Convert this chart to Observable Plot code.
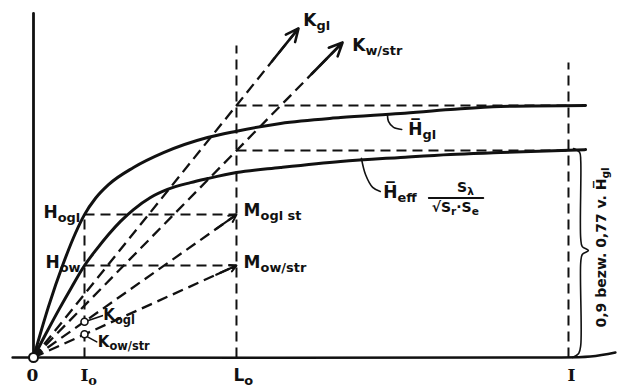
<!DOCTYPE html>
<html><head><meta charset="utf-8">
<script src="https://cdn.jsdelivr.net/npm/d3@7"></script>
<script src="https://cdn.jsdelivr.net/npm/@observablehq/plot@0.6"></script>
<style>html,body{margin:0;padding:0;background:#fff;} #chart svg{display:block;}</style>
</head><body><div id="chart"></div>
<script>
// Units: x in multiples of I0 (I0 = 1), y in multiples of the asymptote of H̄gl (= 1)
const hglX = [0, 0.294, 0.588, 0.824, 1.0, 1.216, 1.471, 1.961, 2.549, 3.412, 3.98, 4.843, 6.02, 7.196, 8.176, 9.157, 10.824];
const hglY = [0, 0.202, 0.375, 0.494, 0.567, 0.632, 0.686, 0.754, 0.813, 0.873, 0.898, 0.929, 0.952, 0.968, 0.984, 0.996, 1.0];
const heffX = [0, 0.235, 0.49, 0.745, 1.0, 1.235, 1.471, 1.706, 1.961, 2.294, 2.627, 3.078, 3.412, 3.98, 4.843, 6.02, 7.196, 8.176, 9.157, 10.824];
const heffY = [0, 0.091, 0.187, 0.278, 0.365, 0.429, 0.488, 0.540, 0.587, 0.635, 0.667, 0.694, 0.710, 0.734, 0.754, 0.778, 0.794, 0.806, 0.813, 0.825];

// rays from the origin
const rayName = ["Kgl", "Kw/str", "Mogl st", "Mow/str"];
const rayX = [5.196, 6.06, 3.98, 3.98];
const rayY = [1.306, 1.25, 0.567, 0.365];
const rayHead = ["big", "big", "small", "small"];

// dashed guide lines
const guideX1 = [1, 3.98, 10.49, 1, 1, 3.98, 3.98];
const guideY1 = [0, 0, 0, 0.567, 0.365, 1.0, 0.821];
const guideX2 = [1, 3.98, 10.49, 3.98, 3.98, 10.49, 10.49];
const guideY2 = [0.567, 1.238, 1.171, 0.567, 0.365, 1.0, 0.821];

// axes (hand drawn)
const xAxisX = [-0.41, 10.0, 10.92, 11.41];
const xAxisY = [0, 0, 0.004, 0.02];
const yAxisX = [0, 0];
const yAxisY = [0, 1.365];

// marked points
const pointX = [1, 1];
const pointY = [0.142, 0.092];

// brace
const braceX = [10.59, 10.71, 10.73, 10.73, 10.76, 10.88, 10.76, 10.73, 10.73, 10.69, 10.57];
const braceY = [0.829, 0.813, 0.782, 0.472, 0.440, 0.425, 0.409, 0.377, 0.048, 0.016, 0];

// leader lines
const leaderId = ["hgl","hgl","hgl","hgl","heff","heff","heff","heff","kogl","kogl","kow","kow"];
const leaderX = [6.94, 6.96, 7.06, 7.22, 6.43, 6.51, 6.65, 6.80, 1.06, 1.35, 1.05, 1.24];
const leaderY = [0.964, 0.937, 0.913, 0.905, 0.790, 0.726, 0.675, 0.659, 0.146, 0.166, 0.083, 0.062];

// labels
const bigText = ["K_{gl}", "K_{w/str}", "H_{ogl}", "H_{ow}", "M_{ogl st}", "M_{ow/str}", "H\u0305_{gl}", "H\u0305_{eff}", "L_{o}"];
const bigX = [5.29, 6.25, 0.196, 0.235, 4.12, 4.12, 7.35, 6.86, 3.92];
const bigY = [1.337, 1.238, 0.575, 0.377, 0.583, 0.377, 0.905, 0.655, -0.071];
const smallText = ["K_{ogl}", "K_{ow/str}"];
const smallX = [1.37, 1.26];
const smallY = [0.166, 0.062];
const fracText = ["S_{λ}", "√S_{r}·S_{e}"];
const fracX = [8.47, 8.27];
const fracY = [0.676, 0.596];
const fracLineX = [7.75, 8.82];
const fracLineY = [0.633, 0.633];
const tickText = ["0", "I_{o}", "I"];
const tickX = [-0.02, 0.92, 10.55];
const tickY = [-0.071, -0.071, -0.071];
const tickAnchor = ["middle", "start", "middle"];
const sideText = ["0,9 bezw. 0,77 v. H\u0305_{gl}"];
const sideX = [11.14];
const sideY = [0.437];

const rays = rayName.map((n, i) => ({n, x: rayX[i], y: rayY[i], head: rayHead[i]}));
const guides = guideX1.map((x1, i) => ({x1, y1: guideY1[i], x2: guideX2[i], y2: guideY2[i]}));
const leaders = leaderId.map((id, i) => ({id, x: leaderX[i], y: leaderY[i]}));
const zip = (xs, ys) => xs.map((x, i) => ({x, y: ys[i]}));

const font = "DejaVu Sans";
const dash = "10,6";

const plot = Plot.plot({
  width: 622, height: 387,
  marginLeft: 33, marginRight: 0, marginTop: 0, marginBottom: 30,
  x: {domain: [0, 589 / 51], axis: null},
  y: {domain: [0, 357 / 252], axis: null},
  style: {background: "#fff", overflow: "visible"},
  marks: [
    Plot.link(guides, {x1: "x1", y1: "y1", x2: "x2", y2: "y2", stroke: "#111", strokeWidth: 2, strokeDasharray: dash}),
    Plot.link(rays, {x1: 0, y1: 0, x2: "x", y2: "y", stroke: "#111", strokeWidth: 2.3, strokeDasharray: "11,6"}),
    Plot.arrow(rays.filter(d => d.head === "big"), {x1: d => d.x * 0.9, y1: d => d.y * 0.9, x2: "x", y2: "y", stroke: "#111", strokeWidth: 2.6, headLength: 14, headAngle: 50}),
    Plot.arrow(rays.filter(d => d.head === "small"), {x1: d => d.x * 0.9, y1: d => d.y * 0.9, x2: "x", y2: "y", stroke: "#111", strokeWidth: 2, headLength: 9, headAngle: 55}),
    Plot.line(zip(hglX, hglY), {x: "x", y: "y", stroke: "#111", strokeWidth: 3, curve: "monotone-x"}),
    Plot.line(zip(heffX, heffY), {x: "x", y: "y", stroke: "#111", strokeWidth: 3, curve: "monotone-x"}),
    Plot.line(zip(xAxisX, xAxisY), {x: "x", y: "y", stroke: "#111", strokeWidth: 2.5, curve: "catmull-rom"}),
    Plot.line(zip(yAxisX, yAxisY), {x: "x", y: "y", stroke: "#111", strokeWidth: 2.8}),
    Plot.line(zip(braceX, braceY), {x: "x", y: "y", stroke: "#111", strokeWidth: 1.6, curve: "catmull-rom"}),
    Plot.line(leaders, {x: "x", y: "y", z: "id", stroke: "#111", strokeWidth: 1.6, curve: "catmull-rom"}),
    Plot.line(zip(fracLineX, fracLineY), {x: "x", y: "y", stroke: "#111", strokeWidth: 1.8}),
    Plot.dot(zip(pointX, pointY), {x: "x", y: "y", r: 3.5, fill: "#fff", stroke: "#111", strokeWidth: 1.6}),
    Plot.dot([{x: 0, y: 0}], {x: "x", y: "y", r: 4.5, fill: "#fff", stroke: "#111", strokeWidth: 2}),
    Plot.text(zip(bigX, bigY).map((d, i) => ({...d, t: bigText[i]})), {x: "x", y: "y", text: "t", textAnchor: "start", fontSize: 17, fontFamily: font, fontWeight: "bold", fill: "#111"}),
    Plot.text(zip(smallX, smallY).map((d, i) => ({...d, t: smallText[i]})), {x: "x", y: "y", text: "t", textAnchor: "start", fontSize: 15, fontFamily: font, fontWeight: "bold", fill: "#111"}),
    Plot.text(zip(fracX, fracY).map((d, i) => ({...d, t: fracText[i]})), {x: "x", y: "y", text: "t", textAnchor: "middle", fontSize: 14, fontFamily: font, fontWeight: "bold", fill: "#111"}),
    Plot.text(zip(tickX, tickY).map((d, i) => ({...d, t: tickText[i], a: tickAnchor[i]})).filter(d => d.a === "middle"), {x: "x", y: "y", text: "t", textAnchor: "middle", fontSize: 17, fontFamily: "DejaVu Serif", fontWeight: "bold", fill: "#111"}),
    Plot.text(zip(tickX, tickY).map((d, i) => ({...d, t: tickText[i], a: tickAnchor[i]})).filter(d => d.a === "start"), {x: "x", y: "y", text: "t", textAnchor: "start", fontSize: 17, fontFamily: "DejaVu Serif", fontWeight: "bold", fill: "#111"}),
    Plot.text(zip(sideX, sideY).map((d, i) => ({...d, t: sideText[i]})), {x: "x", y: "y", text: "t", rotate: -90, textAnchor: "middle", fontSize: 14, fontFamily: font, fontWeight: "bold", fill: "#111"})
  ]
});

document.getElementById("chart").appendChild(plot);

// subscripts: "_{...}" → smaller, lowered tspan
d3.select(plot).selectAll("text").each(function () {
  const s = this.textContent;
  if (!s.includes("_{")) return;
  const fs = parseFloat(getComputedStyle(this).fontSize) || 16;
  const sub = fs * 0.76, shift = fs * 0.24;
  const parts = s.split(/(_\{[^}]*\})/).filter(p => p.length);
  this.textContent = "";
  let low = false;
  for (const p of parts) {
    const isSub = p.startsWith("_{");
    const t = d3.select(this).append("tspan").text(isSub ? p.slice(2, -1) : p);
    if (isSub) { t.attr("font-size", sub); if (!low) t.attr("dy", shift); low = true; }
    else if (low) { t.attr("dy", -shift); low = false; }
  }
});
</script></body></html>
